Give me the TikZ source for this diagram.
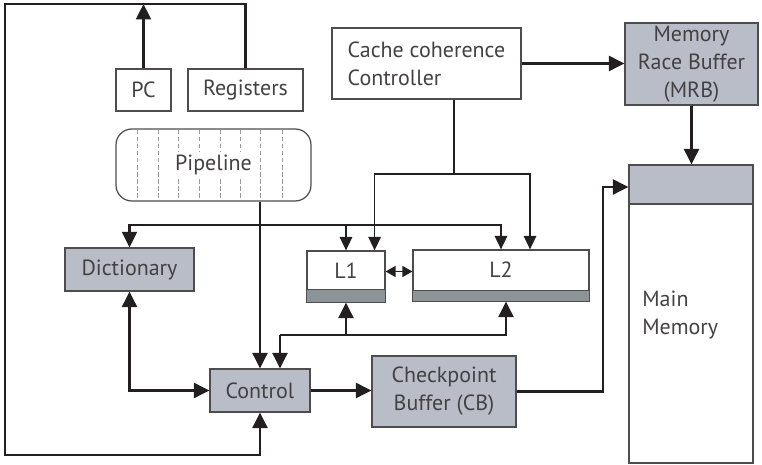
\documentclass[tikz,border=0pt]{standalone}
\usepackage{fontspec}
\setmainfont{PT Sans}
\usetikzlibrary{arrows.meta,calc}
\definecolor{boxg}{RGB}{184,189,199}
\definecolor{bandg}{RGB}{140,148,152}
\definecolor{ink}{RGB}{35,31,32}

\begin{document}
\begin{tikzpicture}[x=0.02cm,y=-0.02cm,
  font=\fontsize{12.5}{16}\selectfont,
  blk/.style={draw=ink!80,line width=0.7pt,inner sep=0pt,align=center,text=ink!85},
  shd/.style={blk,fill=boxg},
  wire/.style={draw=ink,line width=1.4pt,>={Triangle[length=3.1mm,width=3mm]}},
  bus/.style={draw=ink,line width=1.0pt,>={Triangle[length=2.7mm,width=2.5mm]}},
  fine/.style={draw=ink,line width=0.75pt,>={Triangle[length=2.7mm,width=2.5mm]}}]
\useasboundingbox (0,0) rectangle (762,465);
% ---- core: PC, registers, pipeline ----
\node[blk,minimum width=1.10cm,minimum height=0.84cm] (pc) at (143.5,90) {PC};
\node[blk,minimum width=2.30cm,minimum height=0.84cm] (reg) at (245.5,90) {Registers};
\node[blk,rounded corners=9pt,minimum width=3.90cm,minimum height=1.44cm] (pipe) at (213.5,165) {};
\foreach \xx in {137,158,178,199,220,240,260,282}
  \draw[gray!80,dashed,line width=0.4pt,dash pattern=on 2.5pt off 1.5pt] (\xx,130) -- (\xx,200);
\node[fill=white,inner sep=1.5pt,text=ink!85] (pipetxt) at (pipe) {Pipeline};
% ---- caches and coherence ----
\node[blk,minimum width=3.78cm,minimum height=1.42cm,align=left] (cc) at (426.5,63.5) {Cache coherence\\Controller};
\node[blk,minimum width=1.56cm,minimum height=1.02cm] (l1) at (346,276.5) {};
\node[blk,minimum width=3.52cm,minimum height=1.02cm] (l2) at (501,275.5) {};
\draw[draw=ink!80,line width=0.7pt,fill=bandg] ($(l1.south west)+(0,-13)$) rectangle (l1.south east);
\draw[draw=ink!80,line width=0.7pt,fill=bandg] ($(l2.south west)+(0,-11)$) rectangle (l2.south east);
\node[text=ink!85] (l1txt) at (346,271) {L1};
\node[text=ink!85] (l2txt) at (501,270) {L2};
% ---- memory side ----
\node[shd,minimum width=2.66cm,minimum height=1.64cm] (mrb) at (691.5,64) {Memory\\Race Buffer\\(MRB)};
\node[blk,minimum width=2.48cm,minimum height=5.96cm] (mem) at (691,314) {};
\node[shd,minimum width=2.48cm,minimum height=0.78cm,anchor=north] (memhd) at (mem.north) {};
\node[anchor=west,align=left,text=ink!85,inner sep=0pt] (memtxt) at (642,315) {Main\\Memory};
% ---- replay logic ----
\node[shd,minimum width=2.58cm,minimum height=0.86cm] (dict) at (129.5,269.5) {Dictionary};
\node[shd,minimum width=2.00cm,minimum height=0.86cm] (ctl) at (260,390.5) {Control};
\node[shd,minimum width=2.88cm,minimum height=1.42cm] (cb) at (444,391.5) {Checkpoint\\Buffer (CB)};
% ---- connectors ----
\coordinate (topl) at (5,4);
\coordinate (botl) at (5,455);
\draw[wire,->] (pc.north) -- (pc.north |- topl);
\draw[wire,->] (reg.north) |- (topl) -- (botl) -| (ctl.south);
\draw[wire,->] (ctl.north |- pipe.south) -- (ctl.north);
\coordinate (dbus) at (260,225);
\draw[wire,line width=1.2pt,->] (dbus) -| (dict.north);
\draw[bus,->] (dbus) -| (l1.north);
\draw[bus,->] (dbus) -| (l2.north);
\coordinate (cbus) at (454,174);
\draw[fine] (cc.south -| cbus) -- (cbus);
\draw[fine,->] (cbus) -| ($(l1.north east)+(-11,0)$);
\draw[fine,->] (cbus) -| ($(l2.north)+(29,0)$);
\draw[fine,<->,>={Triangle[length=2mm,width=2.2mm]}] ($(l1.east)+(0,-5)$) -- ($(l1.east -| l2.west)+(0,-5)$);
\coordinate (lbus) at (280,335);
\draw[wire,->] (lbus) -- (lbus |- ctl.north);
\draw[wire,->] (lbus) -| (l1.south);
\draw[wire,->] (lbus) -| ($(l2.south)+(5,0)$);
\draw[wire,<->] (dict.south) |- (ctl.west);
\draw[wire,->] (ctl.east) -- (ctl.east -| cb.west);
\coordinate (cbup) at (603,187);
\draw[wire,->] (cb.east) -| (cbup) -- (cbup -| memhd.west);
\draw[wire,->] (cc.east) -- (cc.east -| mrb.west);
\draw[wire,->] (mrb.south) -- (mrb.south |- memhd.north);
\end{tikzpicture}
\end{document}
